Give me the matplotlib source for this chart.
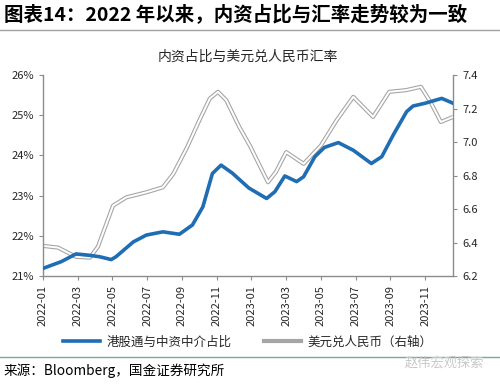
import matplotlib.pyplot as plt
from matplotlib.lines import Line2D

plt.rcParams['font.family'] = ['Noto Sans CJK SC', 'DejaVu Sans']

BLUE = '#1F6DB3'
GRAY = '#A6A6A6'
INK = '#262626'
AXIS = '#8C8C8C'

# month offsets from 2022-01
blue_x = [0, 1.06, 1.9, 2.6, 3.26, 3.93, 4.2, 5.2, 5.95, 6.9, 7.85, 8.6, 9.2, 9.75,
          10.25, 10.9, 11.85, 12.87, 13.35, 13.92, 14.6, 15.0, 15.65, 16.2, 17.0,
          17.86, 18.9, 19.5, 20.16, 20.93, 21.3, 22.0, 22.95, 23.6]
blue_y = [21.19, 21.36, 21.55, 21.52, 21.48, 21.41, 21.48, 21.85, 22.02, 22.10, 22.04,
          22.27, 22.72, 23.55, 23.76, 23.56, 23.19, 22.93, 23.10, 23.49, 23.35, 23.47,
          23.97, 24.20, 24.32, 24.13, 23.80, 23.97, 24.51, 25.09, 25.23, 25.30, 25.42, 25.30]

usd_x = [0, 0.86, 1.9, 2.7, 3.16, 4.03, 4.8, 5.95, 6.9, 7.5, 8.3, 9.0, 9.6, 10.07,
         10.55, 11.3, 11.9, 12.95, 13.4, 14.0, 15.0, 16.0, 16.9, 17.86, 19.0, 19.93,
         20.9, 21.75, 22.3, 22.9, 23.6]
usd_y = [6.38, 6.37, 6.315, 6.31, 6.375, 6.62, 6.67, 6.70, 6.73, 6.81, 6.97, 7.13,
         7.26, 7.30, 7.25, 7.09, 6.98, 6.76, 6.82, 6.94, 6.87, 6.98, 7.13, 7.27, 7.15,
         7.30, 7.31, 7.33, 7.24, 7.12, 7.15]

tick_pos = list(range(0, 24, 2))
tick_labels = ['2022-01', '2022-03', '2022-05', '2022-07', '2022-09', '2022-11',
               '2023-01', '2023-03', '2023-05', '2023-07', '2023-09', '2023-11']
left_ticks = [21, 22, 23, 24, 25, 26]
right_ticks = [6.2, 6.4, 6.6, 6.8, 7.0, 7.2, 7.4]

fig = plt.figure(figsize=(5.0, 3.85), dpi=100)
ax = fig.add_axes([0.086, 0.283, 0.82, 0.522])
ax2 = ax.twinx()

# gray double line: thick gray under thin white
ax2.plot(usd_x, usd_y, color=GRAY, lw=3.0, solid_capstyle='butt', zorder=2)
ax2.plot(usd_x, usd_y, color='white', lw=1.4, solid_capstyle='butt', zorder=3)
ax.plot(blue_x, blue_y, color=BLUE, lw=2.6, zorder=4)
ax.set_zorder(ax2.get_zorder() + 1)
ax.patch.set_visible(False)

ax.set_xlim(0, 23.6)
ax.set_ylim(21, 26)
ax2.set_ylim(6.2, 7.4)
ax.set_yticks(left_ticks)
ax.set_yticklabels([f'{v}%' for v in left_ticks])
ax2.set_yticks(right_ticks)
ax2.set_yticklabels([f'{v:.1f}' for v in right_ticks])
ax.set_xticks(tick_pos)
ax.set_xticklabels(tick_labels, rotation=90)

for a in (ax, ax2):
    a.spines['top'].set_visible(False)
    for s in ('left', 'right', 'bottom'):
        a.spines[s].set_color(AXIS)
        a.spines[s].set_linewidth(1.0)
    a.tick_params(colors=AXIS, labelcolor=INK, labelsize=8, length=3, width=0.8)
ax.spines['right'].set_visible(False)
ax2.spines['left'].set_visible(False)
ax2.spines['bottom'].set_visible(False)

# titles
fig.text(0.008, 0.962, '图表14：2022 年以来，内资占比与汇率走势较为一致',
         fontsize=14, fontweight='bold', fontstyle='italic', color='black',
         va='center', ha='left')
fig.add_artist(Line2D([0, 1], [0.923, 0.923], color='#A0A0A0', lw=1.0))
fig.text(0.496, 0.852, '内资占比与美元兑人民币汇率', fontsize=10, color=INK,
         ha='center', va='center')

# legend
handles = [Line2D([0], [0], color=BLUE, lw=2.6),
           Line2D([0], [0], color=GRAY, lw=3.0)]
leg = fig.legend(handles, ['港股通与中资中介占比', '美元兑人民币（右轴）'],
                 loc='center', bbox_to_anchor=(0.495, 0.112), ncol=2, frameon=False,
                 fontsize=9, handlelength=3.0, columnspacing=2.6, handletextpad=0.5)
for t in leg.get_texts():
    t.set_color(INK)
fig.canvas.draw()
gline = leg.get_lines()[1]
fig.add_artist(Line2D(gline.get_xdata(), gline.get_ydata(), color='white', lw=1.4,
                      transform=gline.get_transform()))

# footer
fig.add_artist(Line2D([0, 1], [0.073, 0.073], color='#7FA3A3', lw=1.0))
fig.text(0.008, 0.038, '来源：Bloomberg，国金证券研究所', fontsize=9.8, color='black',
         va='center', ha='left')
fig.text(0.968, 0.057, '赵伟宏观探索', fontsize=9.5, color='#C8C8C8',
         va='center', ha='right')

fig.savefig('out.png', dpi=100)
